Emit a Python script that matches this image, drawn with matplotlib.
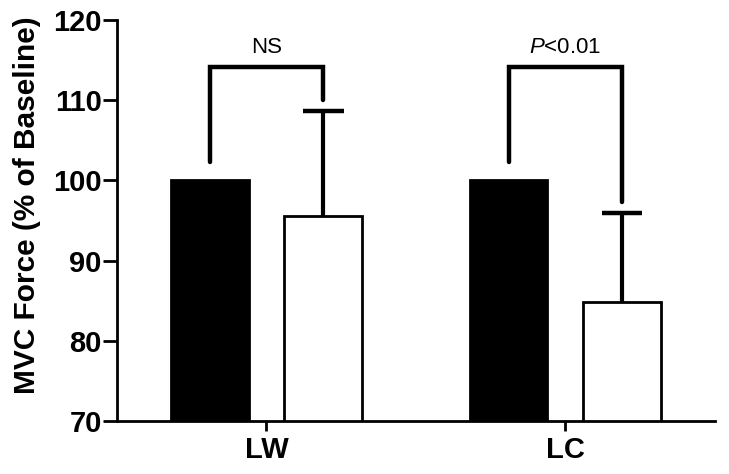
import numpy as np
import matplotlib
matplotlib.use('Agg')
import matplotlib.pyplot as plt

plt.rcParams['font.family'] = ['Liberation Sans', 'DejaVu Sans']
plt.rcParams['mathtext.fontset'] = 'custom'
plt.rcParams['mathtext.rm'] = 'Liberation Sans'
plt.rcParams['mathtext.it'] = 'Liberation Sans:italic'

groups = ['LW', 'LC']
baseline = [100, 100]
post = [95.5, 84.8]
post_sd = [13.2, 11.1]

# significance brackets: label, bracket top, left leg end, right leg end
sig_labels = ['NS', r'$\it{P}$<0.01']
bracket_top = [114.1, 114.1]
left_leg_end = [102.3, 102.3]
right_leg_end = [110.0, 97.3]

x = np.arange(len(groups))
offset = 0.19
width = 0.26
cap = 0.068

fig = plt.figure(figsize=(7.29, 4.74), dpi=100)
ax = fig.add_axes([0.1605, 0.112, 0.82, 0.846])

ax.bar(x - offset, baseline, width, color='black', edgecolor='black', linewidth=2, zorder=2)
ax.bar(x + offset, post, width, color='white', edgecolor='black', linewidth=2, zorder=2)

# upper-only error bars
tops = np.array(post) + np.array(post_sd)
ax.vlines(x + offset, post, tops, color='black', lw=3, zorder=1)
ax.hlines(tops, x + offset - cap, x + offset + cap, color='black', lw=3.2, zorder=1)

for i in range(len(groups)):
    xl = x[i] - offset
    xr = x[i] + offset
    ax.plot([xl, xl, xr, xr], [left_leg_end[i], bracket_top[i], bracket_top[i], right_leg_end[i]],
            color='black', lw=3.2, solid_capstyle='round', solid_joinstyle='miter')
    ax.text((xl + xr) / 2, bracket_top[i] + 1.2, sig_labels[i], ha='center', va='bottom', fontsize=16)

ax.set_xlim(-0.5, 1.5)
ax.set_ylim(70, 120)
ax.set_yticks([70, 80, 90, 100, 110, 120])
ax.set_xticks(x)
ax.set_xticklabels(groups, fontsize=21, fontweight='bold')
for lbl in ax.get_yticklabels():
    lbl.set_fontsize(21)
    lbl.set_fontweight('bold')
ax.set_ylabel('MVC Force (% of Baseline)', fontsize=21.5, fontweight='bold')
ax.yaxis.set_label_coords(-0.127, 0.539)

ax.spines['top'].set_visible(False)
ax.spines['right'].set_visible(False)
ax.spines['left'].set_linewidth(2)
ax.spines['bottom'].set_linewidth(2)
ax.tick_params(axis='y', length=10, width=2, pad=1)
ax.tick_params(axis='x', length=7, width=2, pad=4)

fig.savefig('out.png', dpi=100)
